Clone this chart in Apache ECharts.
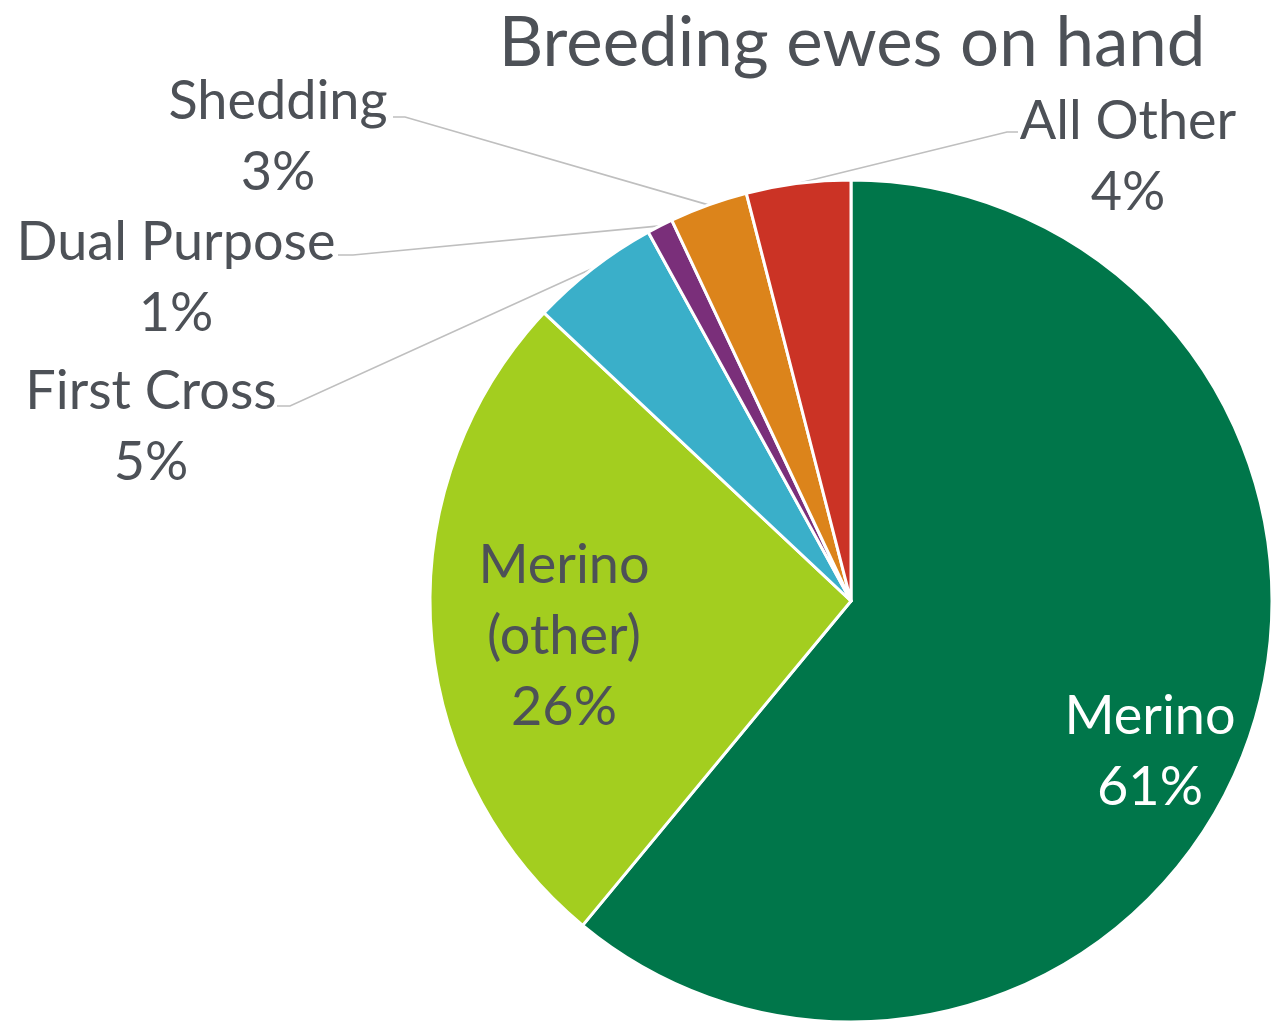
<!DOCTYPE html>
<html>
<head>
<meta charset="utf-8">
<title>Breeding ewes on hand</title>
<script src="https://cdn.jsdelivr.net/npm/echarts@6/dist/echarts.min.js"></script>
<style>
  html, body { margin: 0; padding: 0; background: #fff; }
  #chart { width: 1272px; height: 1022px; }
</style>
</head>
<body>
<div id="chart"></div>
<script>
  // data (percent of breeding ewes)
  const categories = ['Merino', 'Merino (other)', 'First Cross', 'Dual Purpose', 'Shedding', 'All Other'];
  const shares = [61, 26, 5, 1, 3, 4];
  const sliceColors = ['#00764A', '#A3CE1F', '#3AAFC9', '#7A2F7A', '#DC841B', '#CB3325'];

  // where each label sits, and where its leader line bends (layout only)
  const labelSpots = [
    { x: 1150, y: 752 },
    { x: 564, y: 637 },
    { x: 151, y: 427, bendX: 290, endX: 277, lineY: 406 },
    { x: 176, y: 278, bendX: 353, endX: 338, lineY: 255 },
    { x: 278, y: 137, bendX: 405, endX: 393, lineY: 117 },
    { x: 1128, y: 157, bendX: 1007, endX: 1018, lineY: 132 }
  ];

  const textColor = '#4D5157';
  const chart = echarts.init(document.getElementById('chart'));

  chart.setOption({
    animation: false,
    title: {
      text: 'Breeding ewes on hand',
      left: 847,
      top: 4,
      textAlign: 'center',
      textStyle: {
        fontFamily: 'Lato',
        fontSize: 69,
        fontWeight: 'normal',
        color: textColor
      }
    },
    series: [
      {
        type: 'pie',
        center: [851, 601],
        radius: 421,
        startAngle: 90,
        clockwise: true,
        avoidLabelOverlap: false,
        itemStyle: {
          borderColor: '#fff',
          borderWidth: 3
        },
        label: {
          show: true,
          position: 'outside',
          fontFamily: 'Lato',
          fontSize: 54,
          lineHeight: 71,
          color: textColor,
          align: 'center',
          formatter: function (p) {
            return p.name.replace(' (', '\n(') + '\n' + p.percent + '%';
          }
        },
        labelLine: {
          show: true,
          lineStyle: { color: '#BFBFBF', width: 1.6 }
        },
        labelLayout: function (params) {
          const spot = labelSpots[params.dataIndex];
          const out = { x: spot.x, y: spot.y, align: 'center', verticalAlign: 'middle' };
          if (spot.lineY != null && params.labelLinePoints) {
            // first point is the middle of the slice's arc, as the library computed it
            const start = params.labelLinePoints[0];
            out.labelLinePoints = [start, [spot.bendX, spot.lineY], [spot.endX, spot.lineY]];
          }
          return out;
        },
        data: categories.map(function (name, i) {
          const item = {
            name: name,
            value: shares[i],
            itemStyle: { color: sliceColors[i] }
          };
          if (i < 2) {
            item.labelLine = { show: false };
          }
          if (i === 0) {
            item.label = { color: '#fff' };
          }
          return item;
        })
      }
    ]
  });
</script>
</body>
</html>
